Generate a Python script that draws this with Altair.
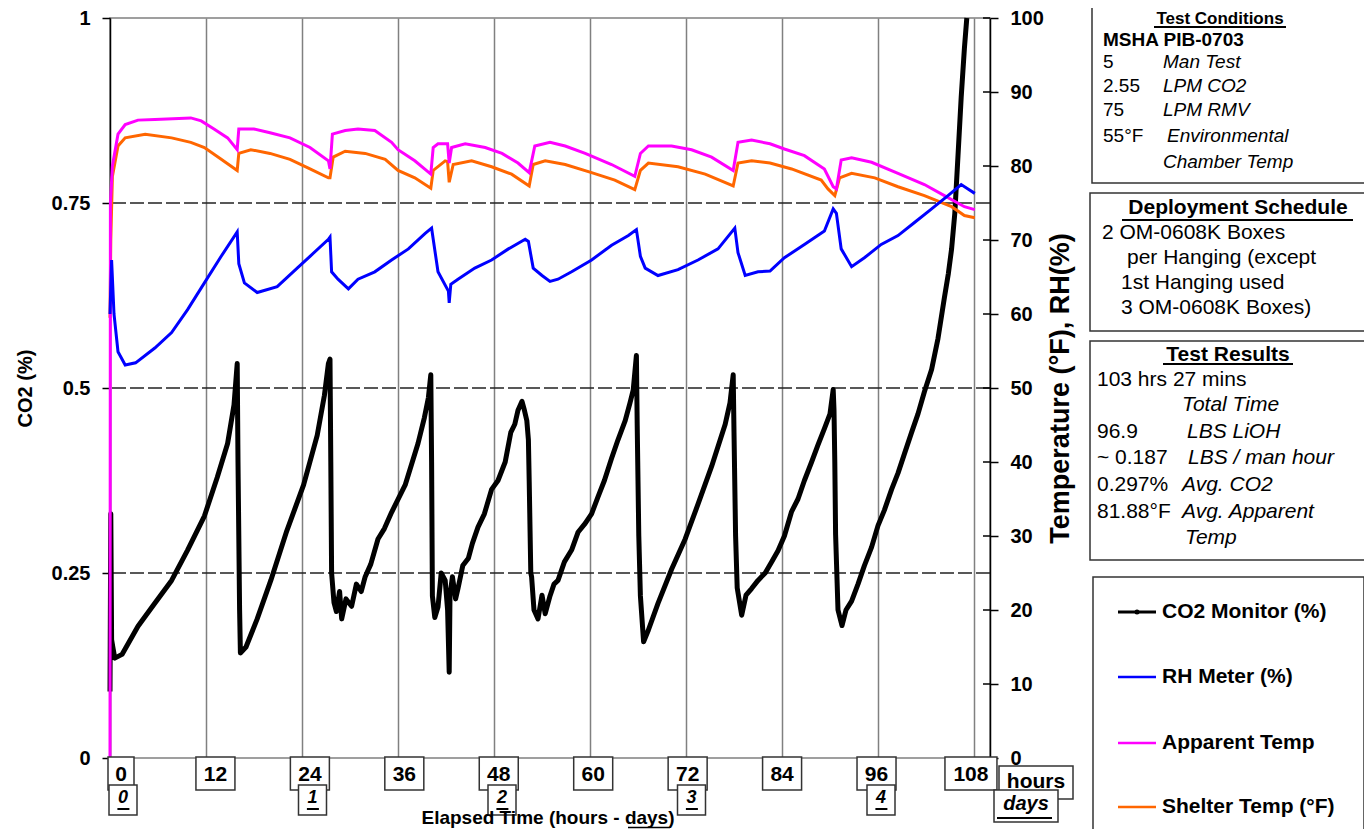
import altair as alt
import pandas as pd

FONT = "Liberation Sans"
W, H = 880, 740
OX, OY = 110, 18  # page position of the plot origin

# ---------------- data ----------------
co2_t = [0.0, 0.1, 0.2, 0.35, 0.6, 1.5, 3.5, 5.6, 7.7, 9.7, 11.8, 13.4, 14.7, 15.5, 15.9,
         16.0, 16.2, 16.3, 17.0, 18.4, 20.1, 22.1, 24.2, 25.9, 26.8, 27.3, 27.5,
         27.6, 27.7, 28.0, 28.3, 28.7, 28.96, 29.5, 30.2, 30.8, 31.4, 31.9, 32.6, 33.5, 34.3,
         35.2, 36.9, 38.5, 39.3, 39.8, 40.1, 40.2, 40.3, 40.6, 41.0, 41.4, 41.9, 42.2, 42.4,
         42.5, 42.8, 43.2, 43.5, 44.1, 44.8, 45.3, 46.0, 46.8, 47.7, 48.5, 49.4, 50.1, 50.6,
         51.0, 51.5, 51.8, 52.1, 52.3, 52.4, 52.6, 52.7, 53.0, 53.5, 54.0, 54.4, 55.0, 55.5,
         56.0, 56.8, 57.7, 58.5, 59.4, 60.2, 61.0, 61.8, 62.7, 63.5, 64.4, 65.0, 65.4, 65.8,
         65.9, 66.1, 66.3, 66.7, 67.3, 68.5, 70.2, 71.9, 73.5, 75.2, 76.9, 77.5, 77.9, 78.0,
         78.2, 78.4, 78.96, 79.5, 80.2, 81.0, 81.9, 82.7, 83.5, 84.3, 85.2, 86.0, 86.8, 87.7,
         88.5, 89.3, 90.0, 90.4, 90.5, 90.6, 90.7, 91.0, 91.5, 92.0, 92.7, 93.5, 94.3, 95.2,
         96.0, 96.8, 97.7, 98.5, 99.3, 100.2, 101.0, 101.8, 102.7, 103.5, 104.3, 104.8, 105.2,
         105.6, 106.0, 106.4, 106.8, 107.1]
co2_v = [0.09, 0.33, 0.16, 0.15, 0.135, 0.14, 0.178, 0.209, 0.24, 0.281, 0.327, 0.379, 0.425, 0.477, 0.533,
         0.40, 0.20, 0.142, 0.15, 0.188, 0.24, 0.307, 0.369, 0.436, 0.49, 0.533, 0.539,
         0.40, 0.25, 0.21, 0.198, 0.225, 0.188, 0.215, 0.205, 0.235, 0.225, 0.245, 0.262, 0.296, 0.31,
         0.332, 0.369, 0.425, 0.46, 0.487, 0.518, 0.40, 0.219, 0.19, 0.204, 0.25, 0.24, 0.20, 0.116,
         0.22, 0.245, 0.215, 0.229, 0.26, 0.27, 0.29, 0.312, 0.33, 0.363, 0.375, 0.40, 0.44, 0.451,
         0.47, 0.482, 0.47, 0.456, 0.43, 0.374, 0.25, 0.245, 0.20, 0.188, 0.22, 0.195, 0.219, 0.235,
         0.24, 0.265, 0.281, 0.305, 0.317, 0.33, 0.353, 0.375, 0.405, 0.43, 0.456, 0.48, 0.497, 0.544,
         0.45, 0.30, 0.219, 0.157, 0.173, 0.209, 0.255, 0.296, 0.343, 0.394, 0.451, 0.48, 0.518, 0.44,
         0.30, 0.23, 0.193, 0.22, 0.229, 0.24, 0.25, 0.265, 0.28, 0.30, 0.333, 0.35, 0.375, 0.40,
         0.423, 0.445, 0.465, 0.498, 0.47, 0.40, 0.302, 0.20, 0.179, 0.20, 0.212, 0.235, 0.26, 0.285,
         0.314, 0.335, 0.363, 0.385, 0.411, 0.44, 0.465, 0.495, 0.525, 0.567, 0.622, 0.655, 0.688,
         0.736, 0.814, 0.893, 0.959, 1.0]

rh_t = [0.0, 0.2, 0.5, 1.0, 1.9, 3.2, 5.6, 7.7, 9.7, 11.8, 13.9, 15.9, 16.1, 16.8, 18.4, 20.9,
        23.4, 25.0, 27.3, 27.5, 27.7, 28.5, 29.8, 31.0, 33.1, 35.2, 37.3, 39.4, 40.2, 41.0, 42.3,
        42.4, 42.6, 43.5, 45.6, 47.7, 49.8, 51.9, 52.3, 52.9, 54.0, 55.0, 56.0, 57.7, 60.2, 62.7,
        64.8, 65.8, 66.3, 66.9, 68.5, 71.0, 73.5, 76.0, 78.1, 78.5, 79.4, 81.0, 82.5, 84.3, 86.8,
        89.3, 90.4, 90.8, 91.4, 92.7, 94.3, 96.4, 98.5, 100.6, 102.7, 104.75, 106.4, 107.25, 108.1]
rh_v = [60, 67.3, 60, 54.9, 53.1, 53.4, 55.4, 57.5, 60.6, 64.2, 67.8, 71.1, 66.8, 64.2, 62.9, 63.7,
        66.2, 67.8, 70.1, 70.4, 65.7, 64.7, 63.4, 64.7, 65.7, 67.3, 68.8, 70.9, 71.6, 65.7, 63.1,
        61.5, 64.0, 64.7, 66.2, 67.3, 68.8, 70.1, 69.8, 66.2, 65.2, 64.4, 64.7, 65.7, 67.3, 69.3,
        70.6, 71.4, 67.8, 66.2, 65.2, 66.0, 67.3, 68.8, 71.6, 68.3, 65.2, 65.7, 65.8, 67.6, 69.4,
        71.2, 74.2, 73.6, 68.8, 66.4, 67.6, 69.4, 70.6, 72.4, 74.2, 76.0, 77.5, 76.9, 76.3]

app_t = [0.0, 0.05, 0.3, 1.0, 1.9, 3.5, 5.6, 10.1, 11.4, 13.0, 14.7, 15.9, 16.1, 18.0, 20.0, 22.5,
         25.0, 27.3, 27.5, 27.8, 29.4, 31.0, 33.1, 35.2, 36.0, 38.1, 40.1, 40.4, 41.0, 42.2, 42.4,
         42.7, 44.4, 46.9, 49.0, 51.0, 52.4, 53.1, 55.0, 56.9, 59.4, 62.7, 65.6, 66.3, 67.3, 70.2,
         72.7, 75.2, 77.9, 78.5, 80.2, 82.5, 84.3, 86.8, 89.3, 90.4, 90.8, 91.4, 92.7, 95.2, 98.5,
         101.8, 104.3, 106.8, 108.1]
app_v = [0, 75, 80, 84.3, 85.6, 86.2, 86.3, 86.5, 86.1, 85.0, 83.8, 82.2, 85.0, 85.0, 84.5, 83.8,
         82.5, 80.7, 79.6, 84.3, 84.8, 85.0, 84.8, 83.2, 82.2, 80.7, 78.9, 82.5, 83.0, 83.0, 80.4,
         82.5, 83.0, 82.5, 81.7, 80.4, 79.1, 82.7, 83.2, 82.7, 81.7, 80.2, 78.6, 81.7, 82.7, 82.7,
         82.2, 81.2, 79.4, 83.2, 83.5, 83.0, 82.3, 81.4, 79.6, 77.2, 76.9, 80.8, 81.1, 80.5, 79.0,
         77.5, 76.0, 74.5, 74.1]

shel_t = [0.0, 0.1, 0.3, 1.0, 1.9, 4.4, 7.7, 10.1, 11.8, 13.9, 15.9, 16.1, 17.6, 20.0, 22.5, 25.0,
          27.3, 27.5, 27.9, 29.4, 31.9, 34.4, 36.0, 38.1, 40.1, 40.4, 41.9, 42.2, 42.4, 42.9, 45.2,
          47.7, 50.2, 52.4, 52.9, 54.4, 56.9, 60.2, 63.1, 65.6, 66.3, 67.3, 71.0, 74.4, 77.9, 78.5,
          80.2, 82.5, 85.2, 88.9, 89.75, 90.6, 91.2, 92.7, 95.6, 98.5, 101.8, 105.2, 106.8, 108.1]
shel_v = [59.5, 70, 78.6, 82.7, 83.8, 84.3, 83.8, 83.2, 82.5, 80.9, 79.4, 81.7, 82.2, 81.7, 80.9, 79.6,
          78.4, 78.4, 81.2, 82.0, 81.7, 80.9, 79.4, 78.4, 77.0, 79.4, 80.7, 80.6, 77.8, 80.2, 80.7,
          79.9, 78.9, 77.3, 80.2, 80.7, 80.2, 79.1, 78.1, 76.8, 79.4, 80.4, 79.9, 78.9, 77.3, 80.4,
          80.7, 80.4, 79.6, 78.1, 76.9, 76.0, 78.4, 79.0, 78.4, 77.2, 76.0, 74.5, 73.3, 73.0]

hour_ticks = [0, 12, 24, 36, 48, 60, 72, 84, 96, 108]
day_ticks = [0, 1, 2, 3, 4]
co2_ticks = [0, 0.25, 0.5, 0.75, 1]
co2_grid = [0.25, 0.5, 0.75]
temp_ticks = [0, 10, 20, 30, 40, 50, 60, 70, 80, 90, 100]

series_names = ["CO2 Monitor (%)", "RH Meter (%)", "Apparent Temp", "Shelter Temp (°F)"]
series_colors = ["#000000", "#0000FF", "#FF00FF", "#FF6600"]

# ---------------- scales & axes ----------------
xs = alt.Scale(domain=[0, 110], nice=False, zero=False)
yl = alt.Scale(domain=[0, 1], nice=False)
yr = alt.Scale(domain=[0, 100], nice=False)

x_axis = alt.Axis(values=hour_ticks[1:], grid=True, gridColor="#808080", gridWidth=1.5,
                  labels=False, ticks=False, domain=False, title=None)

common_axis = dict(domainColor="black", domainWidth=1.5, tickColor="black", tickWidth=1.5,
                   tickSize=8, labelPadding=12, labelFont=FONT, labelFontSize=20,
                   labelFontWeight="bold", labelColor="black", labelFlush=False,
                   labelOverlap=False, grid=False, titleFont=FONT, titleFontWeight="bold",
                   titleColor="black", titleAngle=270, titleAlign="center",
                   titleBaseline="middle", titleY=H / 2)

left_axis = alt.Axis(orient="left", values=co2_ticks, labelExpr="'' + datum.value",
                     title="CO2 (%)", titleFontSize=20, titleX=-85, **common_axis)
right_axis = alt.Axis(orient="right", values=temp_ticks, title="Temperature (°F), RH(%)",
                      titleFontSize=27, titleX=70, **common_axis)


def X(field):
    return alt.X(field, type="quantitative", scale=xs, axis=x_axis)


def YL(field):
    return alt.Y(field, type="quantitative", scale=yl, axis=left_axis)


def YR(field):
    return alt.Y(field, type="quantitative", scale=yr, axis=right_axis)


# ---------------- main layers ----------------
co2_df = pd.DataFrame({"t": co2_t, "v": co2_v})
rh_df = pd.DataFrame({"t": rh_t, "v": rh_v})
app_df = pd.DataFrame({"t": app_t, "v": app_v})
shel_df = pd.DataFrame({"t": shel_t, "v": shel_v})

grid_l = alt.Chart(pd.DataFrame({"v": co2_grid})).mark_rule(
    color="#222222", strokeDash=[14, 4], strokeWidth=1.5).encode(y=YL("v"))
co2_line = alt.Chart(co2_df).mark_line(
    color=series_colors[0], strokeWidth=5, strokeJoin="round").encode(x=X("t"), y=YL("v"))
left = alt.layer(grid_l, co2_line)

inner_ticks = alt.Chart(pd.DataFrame({"v": temp_ticks})).mark_rule(
    color="black", strokeWidth=1.5).encode(x=alt.value(W - 7), x2=alt.value(W), y=YR("v"))
rh_line = alt.Chart(rh_df).mark_line(color=series_colors[1], strokeWidth=3).encode(x=X("t"), y=YR("v"))
app_line = alt.Chart(app_df).mark_line(color=series_colors[2], strokeWidth=3).encode(x=X("t"), y=YR("v"))
shel_line = alt.Chart(shel_df).mark_line(color=series_colors[3], strokeWidth=3).encode(x=X("t"), y=YR("v"))
right = alt.layer(inner_ticks, shel_line, app_line, rh_line)

# ---------------- x tick label boxes ----------------
BOX = "#333333"
hours_df = pd.DataFrame({"h": hour_ticks, "lab": [str(h) for h in hour_ticks]})
hours_base = alt.Chart(hours_df).transform_calculate(
    c="datum.h + (11 - 0.13 * datum.h) / 8",
).transform_calculate(
    lo="datum.c - (6.5 * length(datum.lab) + 6.5) / 8",
    hi="datum.c + (6.5 * length(datum.lab) + 6.5) / 8",
)
hours_box = hours_base.mark_rect(fill="white", stroke=BOX, strokeWidth=1.5).encode(
    x=X("lo:Q"), x2="hi:Q", y=alt.value(739), y2=alt.value(772))
hours_txt = hours_base.mark_text(font=FONT, fontSize=21, fontWeight="bold", color="black",
                                 baseline="middle", align="center").encode(
    x=X("c:Q"), y=alt.value(757), text="lab:N")

days_df = pd.DataFrame({"d": day_ticks, "lab": [str(d) for d in day_ticks]})
days_base = alt.Chart(days_df).transform_calculate(
    c="datum.d * 24 + (13 - 2.5 * datum.d) / 8",
).transform_calculate(
    lo="datum.c - 1.75", hi="datum.c + 1.75", ul="datum.c - 0.7", ur="datum.c + 0.8")
days_box = days_base.mark_rect(fill="white", stroke=BOX, strokeWidth=1.5).encode(
    x=X("lo:Q"), x2="hi:Q", y=alt.value(767), y2=alt.value(797))
days_txt = days_base.mark_text(font=FONT, fontSize=18, fontWeight="bold", fontStyle="italic",
                               color="black", baseline="middle", align="center").encode(
    x=X("c:Q"), y=alt.value(780), text="lab:N")
days_ul = days_base.mark_rule(color="black", strokeWidth=2).encode(
    x=X("ul:Q"), x2="ur:Q", y=alt.value(791))

# ---------------- annotation helpers (page coordinates) ----------------
one = pd.DataFrame({"a": [0]})


def T(s, x, y, size=21, weight="normal", style="normal", align="left"):
    return alt.Chart(one).mark_text(text=s, font=FONT, fontSize=size, fontWeight=weight,
                                    fontStyle=style, align=align, baseline="middle",
                                    color="black").encode(x=alt.value(x - OX), y=alt.value(y - OY))


def R(x1, y1, x2, y2, color=BOX, width=1.5):
    return alt.Chart(one).mark_rect(fill="white", stroke=color, strokeWidth=width).encode(
        x=alt.value(x1 - OX), x2=alt.value(x2 - OX), y=alt.value(y1 - OY), y2=alt.value(y2 - OY))


def U(x1, x2, y, color="black", width=2):
    return alt.Chart(one).mark_rule(color=color, strokeWidth=width).encode(
        x=alt.value(x1 - OX), x2=alt.value(x2 - OX), y=alt.value(y - OY))


ann = []
# hours / days unit boxes
ann += [R(999, 766, 1073, 799), T("hours", 1036, 782, size=21, weight="bold", align="center")]
ann += [R(994, 790, 1058, 822), T("days", 1026, 804, size=20, weight="bold", style="italic", align="center"),
        U(997, 1052, 818)]
# x title
ann += [T("Elapsed Time (hours - days)", 548, 818, size=19, weight="bold", align="center"),
        U(628, 670, 827.5, width=1.5)]

# Test Conditions box
ann += [R(1092, -10, 1368, 183),
        T("Test Conditions", 1220, 19, size=17, weight="bold", align="center"), U(1154, 1286, 27),
        T("MSHA PIB-0703", 1103, 40, size=19, weight="bold"),
        T("5", 1103, 62, size=19), T("Man Test", 1163, 62, size=19, style="italic"),
        T("2.55", 1103, 86, size=19), T("LPM CO2", 1163, 86, size=19, style="italic"),
        T("75", 1103, 110, size=19), T("LPM RMV", 1163, 110, size=19, style="italic"),
        T("55°F", 1103, 136, size=19), T("Environmental", 1167, 136, size=19, style="italic"),
        T("Chamber Temp", 1163, 162, size=19, style="italic")]
# Deployment Schedule box
ann += [R(1090, 193, 1368, 331),
        T("Deployment Schedule", 1238, 208, weight="bold", align="center"), U(1122, 1353, 220),
        T("2 OM-0608K Boxes", 1102, 233),
        T("per Hanging (except", 1127, 258),
        T("1st Hanging used", 1121, 283),
        T("3 OM-0608K Boxes)", 1121, 308)]
# Test Results box
ann += [R(1090, 341, 1366, 560),
        T("Test Results", 1228, 355, weight="bold", align="center"), U(1163, 1293, 364),
        T("103 hrs 27 mins", 1097, 380),
        T("Total Time", 1182, 405, style="italic"),
        T("96.9", 1097, 432), T("LBS LiOH", 1187, 432, style="italic"),
        T("~ 0.187", 1097, 458), T("LBS / man hour", 1188, 458, style="italic"),
        T("0.297%", 1097, 485), T("Avg. CO2", 1182, 485, style="italic"),
        T("81.88°F", 1097, 512), T("Avg. Apparent", 1182, 512, style="italic"),
        T("Temp", 1185, 538, style="italic")]
# Legend box
ann += [R(1093, 577, 1364, 850)]
for name, col, yy in zip(series_names, series_colors, [612, 677, 743, 807]):
    ann += [U(1118, 1156, yy, color=col, width=3 if col == "#000000" else 2.5),
            T(name, 1162, yy, weight="bold")]
ann += [alt.Chart(one).mark_point(filled=True, color="black", size=25, opacity=1).encode(
    x=alt.value(1137 - OX), y=alt.value(612 - OY))]

chart = alt.layer(
    left, right, hours_box, hours_txt, days_box, days_txt, days_ul, *ann
).resolve_scale(y="independent").properties(
    width=W, height=H,
    padding={"left": 102, "top": 10, "right": 374, "bottom": 71},
    autosize=alt.AutoSizeParams(type="none"),
    background="white",
).configure_view(stroke="#808080", strokeWidth=1.5)

chart.save("out.html", embed_options={"renderer": "svg", "actions": False})
